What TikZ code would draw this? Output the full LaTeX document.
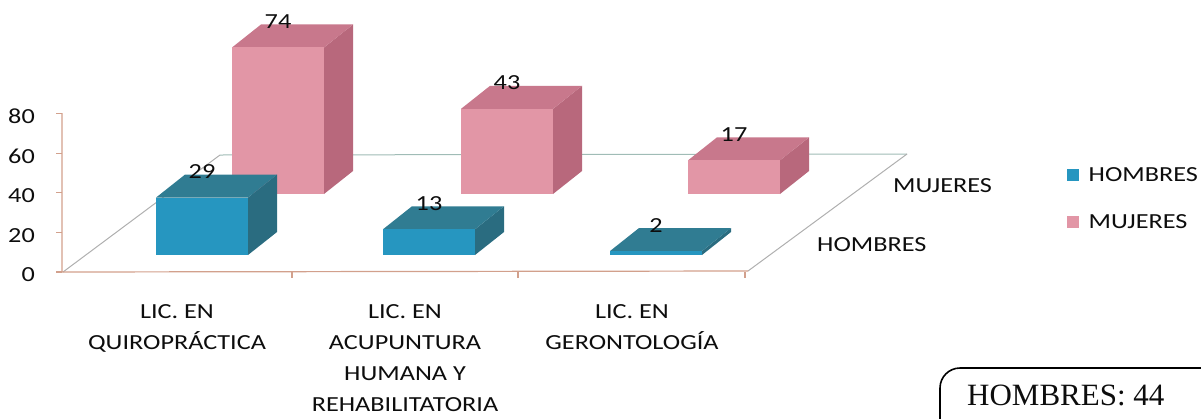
\documentclass[tikz,border=0pt]{standalone}
\usepackage{fontspec}
\setmainfont{Carlito}[FakeStretch=1.22]
\newfontfamily\totalfont{Liberation Serif}
\usetikzlibrary{positioning}

\definecolor{hombresfront}{RGB}{38,150,192}
\definecolor{hombrestop}{RGB}{48,124,146}
\definecolor{hombresside}{RGB}{42,108,128}
\definecolor{mujeresfront}{RGB}{226,150,166}
\definecolor{mujerestop}{RGB}{200,120,140}
\definecolor{mujeresside}{RGB}{184,104,124}
\definecolor{axisbrown}{RGB}{210,160,140}
\definecolor{floorgrey}{RGB}{175,175,175}
\definecolor{backteal}{RGB}{160,188,182}

\begin{document}
\begin{tikzpicture}[x=1pt,y=-1pt,
    font=\fontsize{21.5}{31}\selectfont, text=black!95,
    axisline/.style={draw=axisbrown, line width=1.2pt},
    floorline/.style={draw=floorgrey, line width=1pt},
    vallabel/.style={inner sep=0pt},
    catlabel/.style={anchor=north, align=center, inner sep=0pt},
    legsq/.style={minimum size=12.5pt, inner sep=0pt},
    legtext/.style={inner sep=0pt, text height=13.5pt, text depth=0pt}]
  \useasboundingbox (0,0) rectangle (1201,418);

  % floor and axes
  \draw[floorline] (63,272) -- (220,155);
  \draw[draw=backteal, line width=1pt] (220,155) -- (907,154);
  \draw[floorline] (907,154) -- (748,271);
  \draw[axisline] (62,113) -- (62,272) -- (748,271);
  \foreach \v in {0,20,...,80} {
    \draw[axisline] (56,272-1.98*\v) -- (62,272-1.98*\v);
    \node[anchor=east, inner sep=0pt] at (35,275-1.98*\v) {\v};
  }
  \foreach \x in {292,518,745}
    \draw[axisline] (\x,272) -- (\x,278);

  % bars: left x / bottom y / value / colour
  \foreach \x/\yb/\v/\c in {232/194/74/mujeres, 461/194/43/mujeres, 688/194/17/mujeres,
                           156/255/29/hombres, 383/255/13/hombres, 610/255/2/hombres} {
    \pgfmathsetmacro\h{1.98*\v}
    \fill[\c side] (\x+92,\yb) -- (\x+121,\yb-23) -- (\x+121,\yb-\h-23) -- (\x+92,\yb-\h) -- cycle;
    \fill[\c top] (\x,\yb-\h) -- (\x+92,\yb-\h) -- (\x+121,\yb-\h-23) -- (\x+29,\yb-\h-23) -- cycle;
    \fill[\c front] (\x,\yb) rectangle (\x+92,\yb-\h);
    \node[vallabel] (val\v) at (\x+46,\yb-\h-26) {\v};
  }

  % category and depth labels
  \node[catlabel] (quiro) at (177,304) {LIC. EN\\QUIROPRÁCTICA};
  \node[catlabel] (acupu) at (405,304) {LIC. EN\\ACUPUNTURA\\HUMANA Y\\REHABILITATORIA};
  \node[catlabel] (geron) at (632,304) {LIC. EN\\GERONTOLOGÍA};
  \node[legtext, anchor=west] (rowm) at (893,186) {MUJERES};
  \node[legtext, anchor=west] (rowh) at (817,245) {HOMBRES};

  % legend
  \node[legsq, fill=hombresfront] (legh) at (1073,175) {};
  \node[legtext, right=9pt of legh] (legtexth) {HOMBRES};
  \node[legsq, fill=mujeresfront] (legm) at (1073,222) {};
  \node[legtext, right=9pt of legm] (legtextm) {MUJERES};

  % total box
  \draw[line width=1.6pt, rounded corners=20pt] (940,440) -- (940,368) -- (1220,368);
  \node[anchor=base west, inner sep=0pt, font=\totalfont\fontsize{31}{31}\selectfont] (total) at (967,405) {HOMBRES: 44};
\end{tikzpicture}
\end{document}
